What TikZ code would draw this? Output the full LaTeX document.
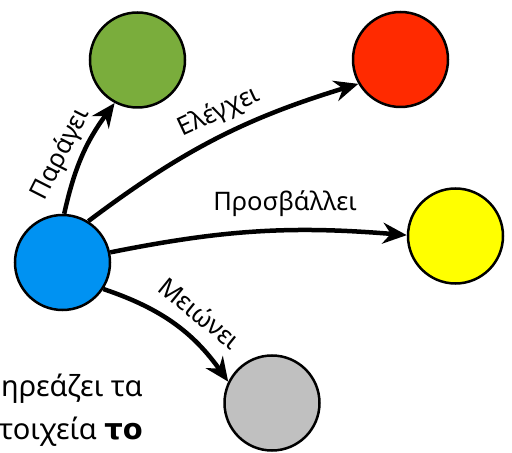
\documentclass[tikz,border=0pt]{standalone}
\usepackage{fontspec}
\setmainfont{Noto Sans}
\newfontfamily\heavyfont{DejaVu Sans}
\usetikzlibrary{arrows.meta}
\definecolor{cblue}{RGB}{0,146,242}
\definecolor{cgreen}{RGB}{122,173,60}
\definecolor{cred}{RGB}{255,42,0}
\definecolor{cyellow}{RGB}{255,255,0}
\definecolor{cgray}{RGB}{192,192,192}
\begin{document}
\begin{tikzpicture}[x=1pt,y=1pt,
  ball/.style={circle, draw=black, line width=2.5pt, minimum size=95pt, inner sep=0pt},
  conn/.style={line width=4.5pt, -{Stealth[length=24pt,width=21pt,inset=8pt]}},
  lbl/.style={font=\fontsize{25.5}{30}\selectfont, inner sep=0pt},
  body/.style={font=\fontsize{29}{34}\selectfont, inner sep=0pt, anchor=base west}]
\useasboundingbox (0,0) rectangle (512,453);
\begin{scope}
\clip (0,0) rectangle (512,453);
\node[ball, fill=cblue] (B) at (62.5,190.5) {};
\node[ball, fill=cgreen] (G) at (137.5,393) {};
\node[ball, fill=cred] (R) at (400.5,393.5) {};
\node[ball, fill=cyellow] (Y) at (455.5,217) {};
\node[ball, fill=cgray] (Gr) at (272,50) {};
\draw[conn] (B.88) to[bend left=12] (G.242);
\draw[conn] (B.58) to[bend left=10] (R.210);
\draw[conn] (B.12) to[bend left=8] (Y.179);
\draw[conn] (B.-33) to[bend left=18] (Gr.154);
\node[lbl, rotate=63] (l1) at (61,299) {Παράγει};
\node[lbl, rotate=25] (l2) at (219,341) {Ελέγχει};
\node[lbl] (l3) at (285,249) {Προσβάλλει};
\node[lbl, rotate=-39] (l4) at (200,140) {Μειώνει};
\node[body] (t1) at (1,56) {ηρεάζει τα};
\node[body] (t2) at (-1,13) {τοιχεία {\heavyfont\bfseries το}};
\end{scope}
\end{tikzpicture}
\end{document}
